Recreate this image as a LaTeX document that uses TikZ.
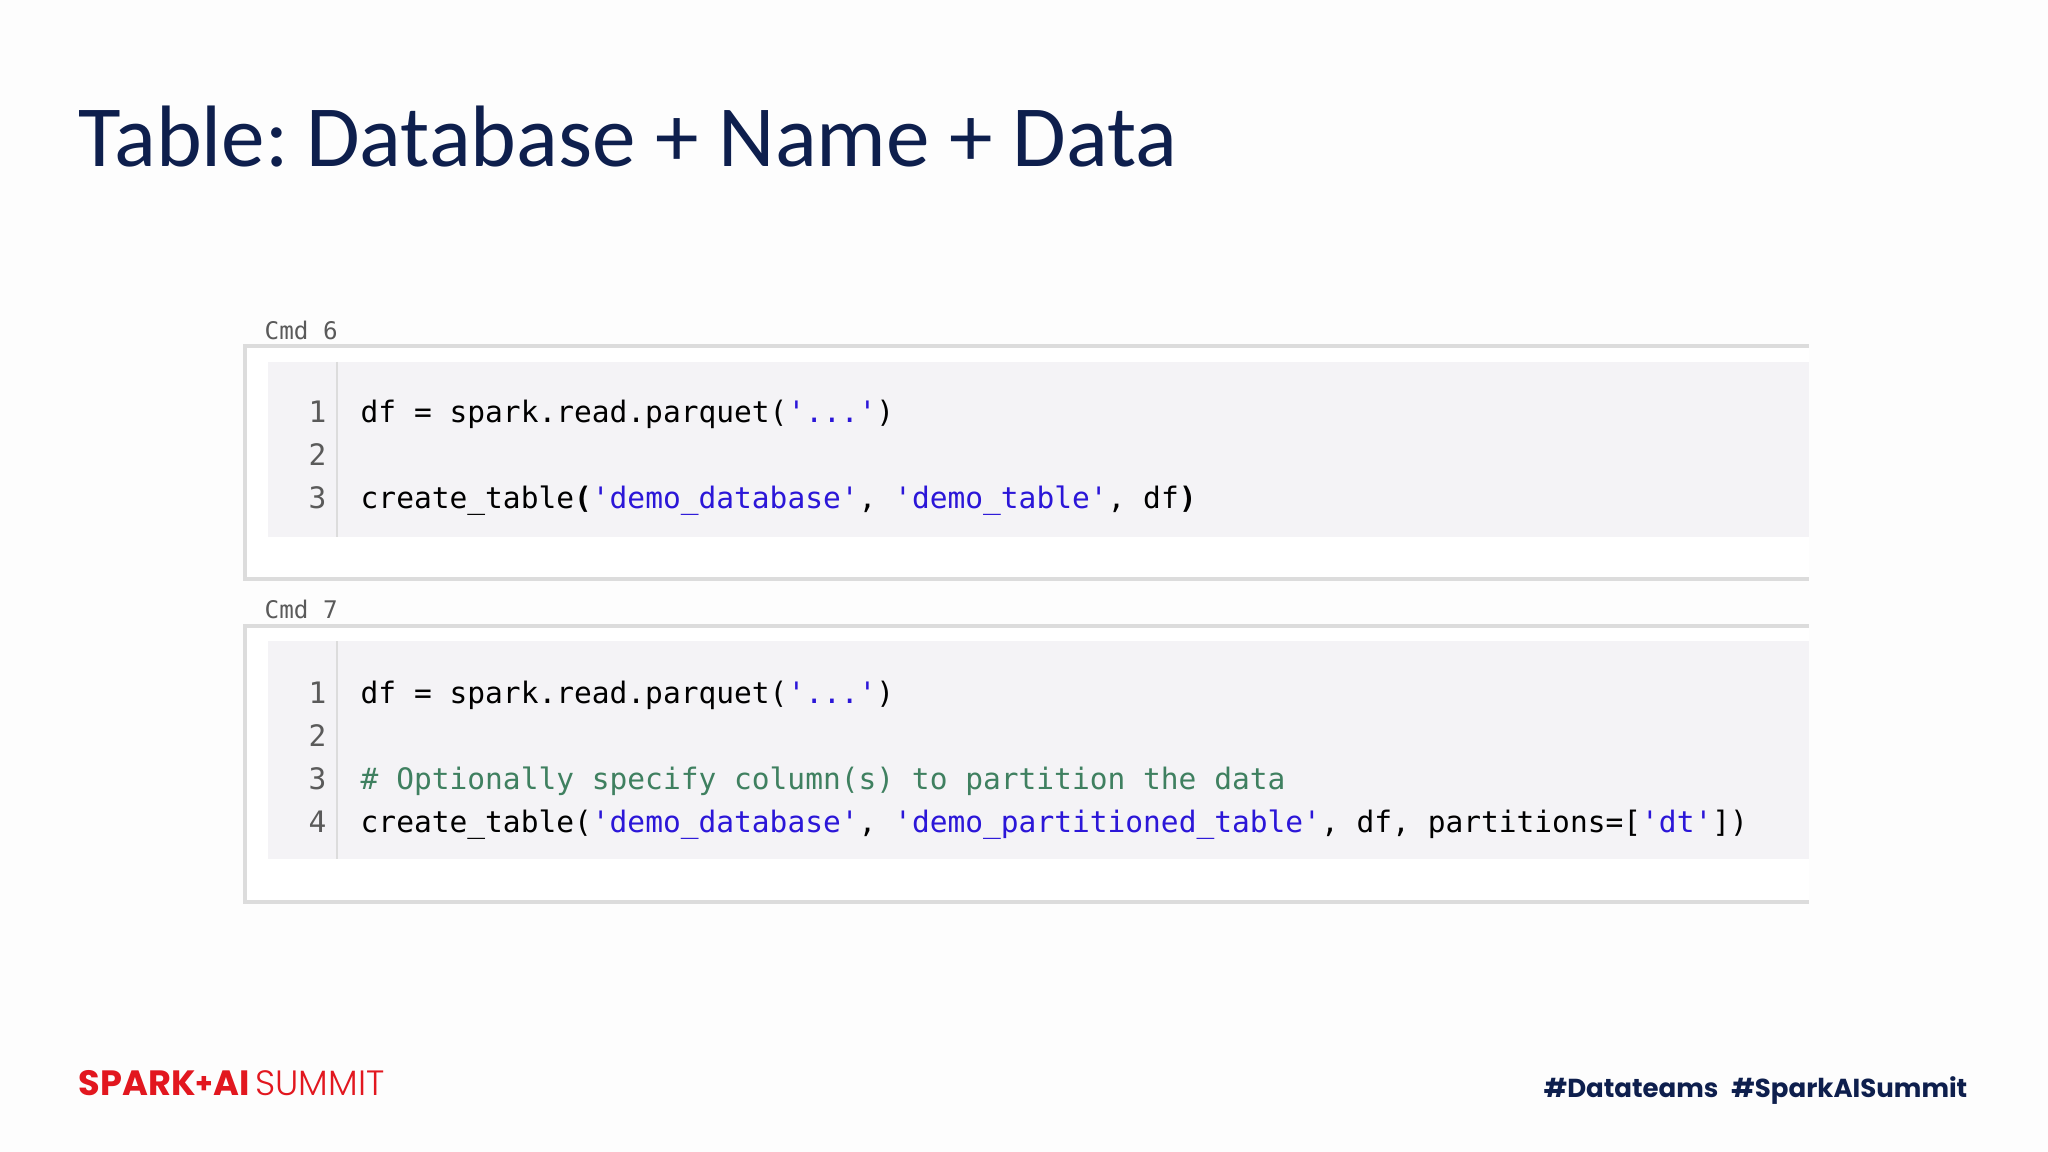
\documentclass[tikz,border=0pt]{standalone}
\usepackage{fontspec}
\setmainfont{Carlito}
\setmonofont{DejaVu Sans Mono}
\newfontfamily\popb{Poppins}[UprightFont=* Bold]
\newfontfamily\popl{Poppins}[UprightFont=* Light]
\definecolor{navy}{HTML}{0E1F4D}
\definecolor{sred}{HTML}{E2171F}
\definecolor{strb}{HTML}{2B16D8}
\definecolor{cmt}{HTML}{3F8060}
\definecolor{cellbg}{HTML}{F4F3F6}
\definecolor{bord}{HTML}{DCDCDC}
\definecolor{lnum}{HTML}{5A5A5A}
\tikzset{
  code/.style={anchor=base west,inner sep=0pt,font=\ttfamily\fontsize{8.4}{10}\selectfont,text=black},
  num/.style={anchor=base east,inner sep=0pt,font=\ttfamily\fontsize{8.4}{10}\selectfont,text=lnum},
  cmd/.style={anchor=base west,inner sep=0pt,font=\ttfamily\fontsize{6.9}{8}\selectfont,text=lnum},
}
\newcommand{\s}[1]{\textcolor{strb}{#1}}
\begin{document}
\begin{tikzpicture}[x=0.01cm,y=-0.01cm]
\fill[white!97!gray!60] (0,0) rectangle (2048,1152);
\useasboundingbox (0,0) rectangle (2048,1152);
\node[anchor=base west,inner sep=0pt,text=navy,font=\fontsize{24.8}{30}\selectfont] (title) at (78,167) {Table:\hspace{-0.1em} Database + Name + Data};
% cell 1
\node[cmd] (cmd6) at (264,340) {Cmd 6};
\fill[white] (245,346) rectangle (1809,579);
\draw[bord,line width=0.9pt] (1809,346) -- (245,346) -- (245,579) -- (1809,579);
\fill[cellbg] (268,362) rectangle (1809,537);
\draw[bord,line width=0.7pt] (337,362) -- (337,537);
\node[num] (a1) at (327,423) {1};
\node[num] (a2) at (327,466) {2};
\node[num] (a3) at (327,509) {3};
\node[code] (c1) at (360,423) {df = spark.read.parquet(\s{'...'})};
\node[code] (c3) at (360,509) {create\_table\textbf{(}\s{'demo\_database'}, \s{'demo\_table'}, df\textbf{)}};
% cell 2
\node[cmd] (cmd7) at (264,619) {Cmd 7};
\fill[white] (245,626) rectangle (1809,902);
\draw[bord,line width=0.9pt] (1809,626) -- (245,626) -- (245,902) -- (1809,902);
\fill[cellbg] (268,641) rectangle (1809,859);
\draw[bord,line width=0.7pt] (337,641) -- (337,859);
\node[num] (b1) at (327,703) {1};
\node[num] (b2) at (327,746) {2};
\node[num] (b3) at (327,789) {3};
\node[num] (b4) at (327,832) {4};
\node[code] (d1) at (360,703) {df = spark.read.parquet(\s{'...'})};
\node[code,text=cmt] (d3) at (360,789) {\# Optionally specify column(s) to partition the data};
\node[code] (d4) at (360,832) {create\_table(\s{'demo\_database'}, \s{'demo\_partitioned\_table'}, df, partitions=[\s{'dt'}])};
% footer
\node[anchor=base west,inner sep=0pt,text=sred,font=\fontsize{10}{12}\selectfont] (logo) at (78,1095) {\popb SPARK\raisebox{0.1ex}{\scalebox{0.8}{+}}AI\,\popl SUMMIT};
\node[anchor=base east,inner sep=0pt,text=navy,font=\popb\fontsize{7.4}{9}\selectfont] (tags) at (1968,1097) {\#Datateams\hspace{0.5em}\#SparkAISummit};
\end{tikzpicture}
\end{document}
